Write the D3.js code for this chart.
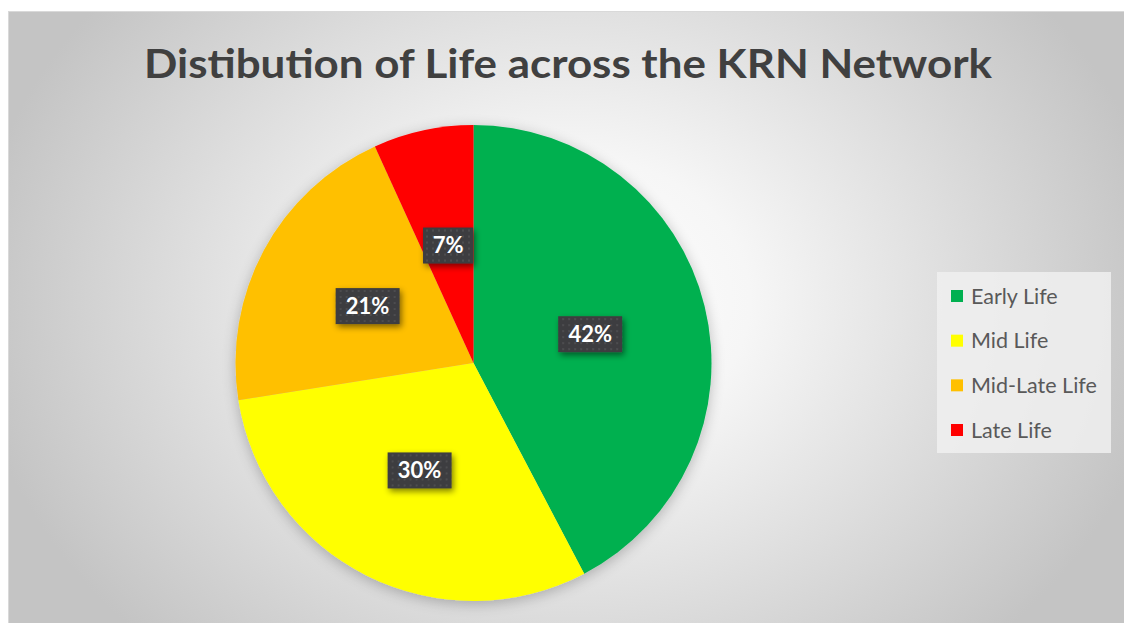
<!DOCTYPE html>
<html><head><meta charset="utf-8">
<script src="https://cdn.jsdelivr.net/npm/d3@7"></script>
<style>html,body{margin:0;padding:0;background:#fff;overflow:hidden}</style>
</head><body>
<svg id="chart" width="1124" height="623"></svg>
<script>
const title = "Distibution of Life across the KRN Network";
const categories = ["Early Life", "Mid Life", "Mid-Late Life", "Late Life"];
const values = [42.3, 30.2, 20.7, 6.8];
const labels = ["42%", "30%", "21%", "7%"];
const colors = ["#00B050", "#FFFF00", "#FFC000", "#FF0000"];

const svg = d3.select("#chart");
const defs = svg.append("defs");

const bg = defs.append("radialGradient").attr("id","bg")
  .attr("gradientUnits","userSpaceOnUse").attr("cx",570).attr("cy",300).attr("r",600)
  .attr("gradientTransform","translate(570,300) scale(1,0.8) translate(-570,-300)");
bg.append("stop").attr("offset","0").attr("stop-color","#ffffff");
bg.append("stop").attr("offset","0.3").attr("stop-color","#f6f6f6");
bg.append("stop").attr("offset","1").attr("stop-color","#c4c4c4");

const sh = defs.append("filter").attr("id","pieShadow").attr("x","-20%").attr("y","-20%").attr("width","140%").attr("height","140%");
sh.append("feGaussianBlur").attr("in","SourceAlpha").attr("stdDeviation",7).attr("result","b");
sh.append("feOffset").attr("in","b").attr("dx",0).attr("dy",3).attr("result","o");
sh.append("feComponentTransfer").attr("in","o").attr("result","o2").append("feFuncA").attr("type","linear").attr("slope",0.25);
const m = sh.append("feMerge"); m.append("feMergeNode").attr("in","o2"); m.append("feMergeNode").attr("in","SourceGraphic");

const ls = defs.append("filter").attr("id","lblShadow").attr("x","-30%").attr("y","-30%").attr("width","160%").attr("height","160%");
ls.append("feGaussianBlur").attr("in","SourceAlpha").attr("stdDeviation",3).attr("result","b");
ls.append("feOffset").attr("in","b").attr("dx",2).attr("dy",3).attr("result","o");
ls.append("feComponentTransfer").attr("in","o").attr("result","o2").append("feFuncA").attr("type","linear").attr("slope",0.5);
const m2 = ls.append("feMerge"); m2.append("feMergeNode").attr("in","o2"); m2.append("feMergeNode").attr("in","SourceGraphic");

const pat = defs.append("pattern").attr("id","dots").attr("patternUnits","userSpaceOnUse").attr("width",6).attr("height",6);
pat.append("rect").attr("width",6).attr("height",6).attr("fill","#3d3d3f");
pat.append("circle").attr("cx",3).attr("cy",3).attr("r",0.9).attr("fill","#555558");

// background
svg.append("rect").attr("x",8).attr("y",11).attr("width",1116).attr("height",612).attr("fill","url(#bg)");
svg.append("line").attr("x1",8).attr("x2",1124).attr("y1",11.5).attr("y2",11.5).attr("stroke","#d9d9d9");
svg.append("line").attr("x1",8.5).attr("x2",8.5).attr("y1",11).attr("y2",623).attr("stroke","#d9d9d9");

// title
svg.append("text").attr("x",568).attr("y",78).attr("text-anchor","middle")
  .attr("font-family","Lato, 'Open Sans', sans-serif").attr("font-weight","bold").attr("font-size",40)
  .attr("fill","#404040").attr("textLength",848).attr("lengthAdjust","spacingAndGlyphs").text(title);

// pie
const cx = 473.5, cy = 363, r = 238;
const pie = d3.pie().sort(null).value(d => d);
const arcs = pie(values);
const arc = d3.arc().innerRadius(0).outerRadius(r);
const g = svg.append("g").attr("transform",`translate(${cx},${cy})`);
g.append("g").attr("filter","url(#pieShadow)").selectAll("path").data(arcs).join("path")
  .attr("d",arc).attr("fill",(d,i)=>colors[i]);

// data labels
const lblArc = d3.arc().innerRadius(r*0.505).outerRadius(r*0.505);
const lg = g.selectAll("g.lbl").data(arcs).join("g").attr("class","lbl")
  .attr("transform",(d,i)=>{const c=lblArc.centroid(d);return `translate(${c[0]},${c[1]})`;});
lg.append("rect")
  .attr("x",(d,i)=>labels[i].length>2?-32:-25).attr("y",-18)
  .attr("width",(d,i)=>labels[i].length>2?64:50).attr("height",36)
  .attr("fill","url(#dots)").attr("filter","url(#lblShadow)");
lg.append("text").attr("text-anchor","middle").attr("dy","0.36em")
  .attr("font-family","Lato, 'Open Sans', sans-serif").attr("font-weight","bold").attr("font-size",22)
  .attr("fill","#ffffff").text((d,i)=>labels[i]);

// legend
const lgX = 937, lgY = 272;
svg.append("rect").attr("x",lgX).attr("y",lgY).attr("width",174).attr("height",181).attr("fill","#f0f0f0").attr("opacity",0.85);
const yL = d3.scalePoint().domain(categories).range([296,430]);
const li = svg.selectAll("g.leg").data(categories).join("g").attr("class","leg")
  .attr("transform",d=>`translate(0,${yL(d)})`);
li.append("rect").attr("x",951).attr("y",-6).attr("width",12).attr("height",12).attr("fill",(d,i)=>colors[i]);
li.append("text").attr("x",971).attr("dy","0.35em")
  .attr("font-family","Lato, 'Open Sans', sans-serif").attr("font-size",21.5).attr("fill","#595959").text(d=>d);
</script>
</body></html>
